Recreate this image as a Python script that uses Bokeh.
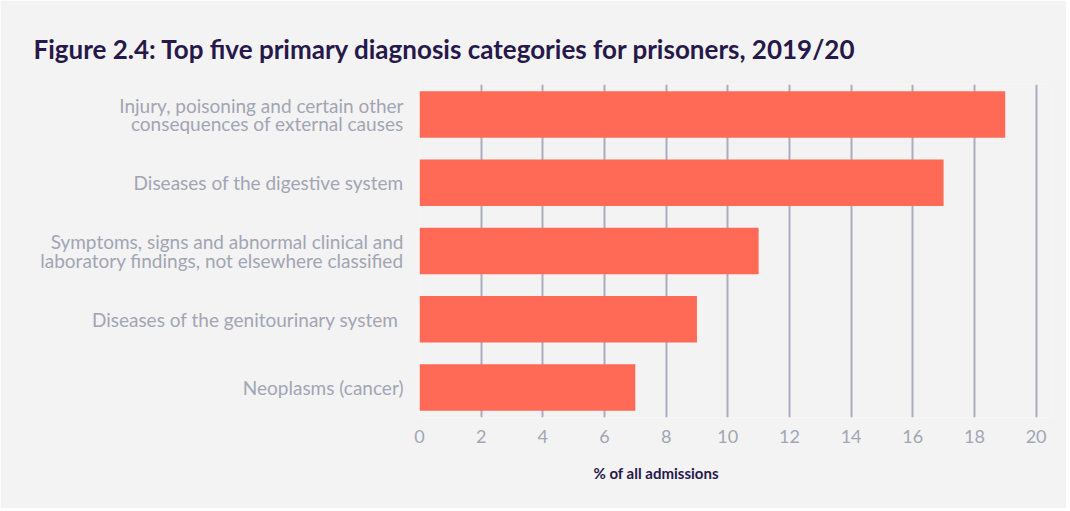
from bokeh.plotting import figure
from bokeh.models import Range1d, FixedTicker, Title
from bokeh.embed import file_html
from bokeh.resources import INLINE

categories = [
    "Injury, poisoning and certain other\nconsequences of external causes",
    "Diseases of the digestive system",
    "Symptoms, signs and abnormal clinical and\nlaboratory findings, not elsewhere classified",
    "Diseases of the genitourinary system ",
    "Neoplasms (cancer)",
]
values = [19, 17, 11, 9, 7]
x_ticks = [0, 2, 4, 6, 8, 10, 12, 14, 16, 18, 20]

title_text = "Figure 2.4: Top five primary diagnosis categories for prisoners, 2019/20"
xlabel_text = "% of all admissions"

BG = "#f3f3f3"
BAR = "#ff6a57"
GRID = "#aaadbc"
TICK = "#a2a5b3"
DARK = "#27184a"
FONT = "Lato"

positions = list(range(len(categories)))

p = figure(
    output_backend="svg", toolbar_location=None,
    frame_width=632, frame_height=333,
    min_border_left=419, min_border_right=15,
    min_border_top=84, min_border_bottom=91,
    x_range=Range1d(0, 20.5), y_range=Range1d(4.44, -0.44),
    background_fill_color=BG, border_fill_color=BG,
    outline_line_color=None,
)

p.hbar(y=positions, left=0, right=values, height=0.68, color=BAR, line_color=None)

p.ygrid.visible = False
p.xgrid.grid_line_color = GRID
p.xgrid.grid_line_width = 2
p.xgrid.ticker = FixedTicker(ticks=x_ticks)

p.xaxis.ticker = FixedTicker(ticks=x_ticks)
p.xaxis.axis_line_color = None
p.xaxis.major_tick_line_color = None
p.xaxis.minor_tick_line_color = None
p.xaxis.major_label_text_color = TICK
p.xaxis.major_label_text_font = FONT
p.xaxis.major_label_text_font_size = "18px"
p.xaxis.major_label_standoff = 6

p.yaxis.ticker = FixedTicker(ticks=positions)
p.yaxis.major_label_overrides = {i: c for i, c in enumerate(categories)}
p.yaxis.axis_line_color = None
p.yaxis.major_tick_line_color = None
p.yaxis.minor_tick_line_color = None
p.yaxis.major_label_text_color = TICK
p.yaxis.major_label_text_font = FONT
p.yaxis.major_label_text_font_size = "19px"
p.yaxis.major_label_text_line_height = 0.8
p.yaxis.major_label_standoff = 10

p.title.text = title_text
p.title.align = "left"
p.title.offset = -386
p.title.standoff = 40
p.title.text_font = FONT
p.title.text_font_style = "bold"
p.title.text_font_size = "26px"
p.title.text_color = DARK

xl = Title(text=xlabel_text, align="left", offset=174, standoff=32,
           text_font=FONT, text_font_style="bold", text_font_size="15px",
           text_color=DARK)
p.add_layout(xl, "below")

open("out.html", "w").write(file_html(p, INLINE))
